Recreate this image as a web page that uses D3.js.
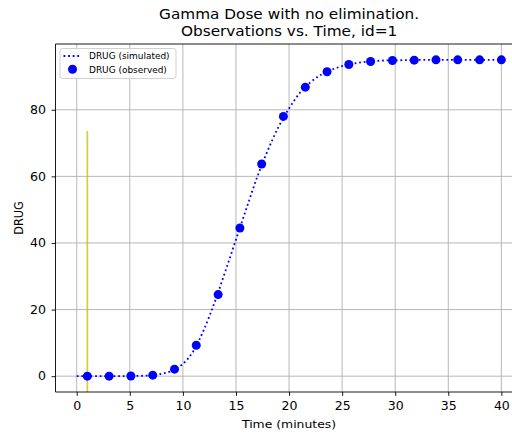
<!DOCTYPE html>
<html>
<head>
<meta charset="utf-8">
<script src="https://cdn.jsdelivr.net/npm/d3@7"></script>
<style>
  html, body { margin: 0; padding: 0; background: #fff; }
  svg { display: block; font-family: "DejaVu Sans", sans-serif; }
</style>
</head>
<body>
<svg id="chart" width="512" height="432"></svg>
<script>
// Simulated amount of DRUG over time (minutes)
const simTime = [0, 1, 2, 3, 4, 5, 6, 7, 8, 9, 10, 11, 12, 13, 14, 15, 16, 17, 18, 19, 20,
                 21, 22, 23, 24, 25, 26, 27, 28, 29, 30, 31, 32, 33, 34, 35, 36, 37, 38, 39, 40];
const simDrug = [0, 0, 0, 0, 0, 0.03, 0.1, 0.25, 0.75, 1.65, 3.7, 7.6, 14.1, 22.3, 31.5, 41.0,
                 50.5, 59.8, 67.8, 74.8, 80.4, 85.0, 88.2, 90.5, 92.0, 93.1, 93.8, 94.3, 94.6,
                 94.8, 94.85, 94.9, 94.95, 95, 95, 95, 95, 95, 95, 95, 95];

// Observed samples
const obsTime = [1, 3.05, 5.1, 7.16, 9.21, 11.26, 13.32, 15.37, 17.42, 19.47,
                 21.53, 23.58, 25.63, 27.68, 29.74, 31.79, 33.84, 35.89, 37.95, 40];
const obsDrug = [0, 0, 0.05, 0.3, 2.1, 9.3, 24.5, 44.5, 63.7, 78.0,
                 86.8, 91.4, 93.6, 94.5, 94.8, 94.9, 95.0, 95.0, 95.0, 95.0];

// Dosing time marker
const doseTime = 1;

const xTicks = [0, 5, 10, 15, 20, 25, 30, 35, 40];
const yTicks = [0, 20, 40, 60, 80];

const svg = d3.select("#chart");
const axLeft = 55.5, axRight = 522.6, axTop = 44, axBottom = 392;
const cx = (axLeft + axRight) / 2;
const sx = 1.1;          // horizontal text stretch
const tickFont = 11.4, labelFont = 11.3, titleFont = 13.9, legendFont = 8.15;

const x = d3.scaleLinear().domain([-2, 42]).range([axLeft, axRight]);
const y = d3.scaleLinear().domain([-4.75, 99.75]).range([axBottom, axTop]);

// Grid lines
const grid = svg.append("g");
grid.selectAll("line.gx").data(xTicks).join("line")
  .attr("x1", d => x(d)).attr("x2", d => x(d))
  .attr("y1", axTop).attr("y2", axBottom)
  .attr("stroke", "#b0b0b0").attr("stroke-width", 0.9);
grid.selectAll("line.gy").data(yTicks).join("line")
  .attr("x1", axLeft).attr("x2", axRight)
  .attr("y1", d => y(d)).attr("y2", d => y(d))
  .attr("stroke", "#b0b0b0").attr("stroke-width", 0.9);

// Dose marker spanning the lower three quarters of the axes
svg.append("line")
  .attr("x1", x(doseTime)).attr("x2", x(doseTime))
  .attr("y1", axBottom).attr("y2", axBottom - 0.75 * (axBottom - axTop))
  .attr("stroke", "#bfbf00").attr("stroke-opacity", 0.75).attr("stroke-width", 1.7);

// Simulated curve
const sim = simTime.map((t, i) => [t, simDrug[i]]);
svg.append("path")
  .datum(sim)
  .attr("d", d3.line().x(d => x(d[0])).y(d => y(d[1])).curve(d3.curveMonotoneX))
  .attr("fill", "none")
  .attr("stroke", "#0000ff")
  .attr("stroke-width", 1.8)
  .attr("stroke-dasharray", "1.8,2.8");

// Observed points
svg.append("g").selectAll("circle").data(obsTime.map((t, i) => [t, obsDrug[i]])).join("circle")
  .attr("cx", d => x(d[0])).attr("cy", d => y(d[1]))
  .attr("r", 4.5).attr("fill", "#0000ff");

// Axes
const tickLen = 3.9;
const xAxis = d3.axisBottom(x).tickValues(xTicks).tickSize(tickLen).tickPadding(6.0);
const yAxis = d3.axisLeft(y).tickValues(yTicks).tickSize(tickLen).tickPadding(5.6);

const gx = svg.append("g").attr("transform", `translate(0,${axBottom})`).call(xAxis);
const gy = svg.append("g").attr("transform", `translate(${axLeft},0)`).call(yAxis);
[gx, gy].forEach(g => {
  g.select(".domain").remove();
  g.selectAll(".tick line").attr("stroke", "#000").attr("stroke-width", 0.9);
  g.selectAll(".tick text").attr("fill", "#000")
    .attr("transform", `scale(${sx},1)`)
    .style("font-family", "DejaVu Sans").style("font-size", tickFont + "px");
});
gy.selectAll(".tick text").attr("x", -(tickLen + 5.6) / sx);

// Spines
svg.append("line").attr("x1", axLeft).attr("x2", axLeft).attr("y1", axTop).attr("y2", axBottom)
  .attr("stroke", "#000").attr("stroke-width", 0.9);
svg.append("line").attr("x1", axLeft).attr("x2", axRight).attr("y1", axBottom).attr("y2", axBottom)
  .attr("stroke", "#000").attr("stroke-width", 0.9);
svg.append("line").attr("x1", axLeft).attr("x2", axRight).attr("y1", axTop).attr("y2", axTop)
  .attr("stroke", "#000").attr("stroke-width", 0.9);

// Axis labels
svg.append("text")
  .attr("transform", `translate(${cx},427.5) scale(${sx},1)`)
  .attr("text-anchor", "middle").style("font-size", labelFont + "px")
  .text("Time (minutes)");
svg.append("text")
  .attr("transform", `translate(23.3,${(axTop + axBottom) / 2}) scale(${sx},1) rotate(-90)`)
  .attr("text-anchor", "middle").style("font-size", labelFont + "px")
  .text("DRUG");

// Title
const title = svg.append("text")
  .attr("transform", `translate(${cx},0) scale(${sx},1)`)
  .attr("text-anchor", "middle").style("font-size", titleFont + "px");
title.append("tspan").attr("x", 0).attr("y", 19.2).text("Gamma Dose with no elimination.");
title.append("tspan").attr("x", 0).attr("y", 35.8).text("Observations vs. Time, id=1");

// Legend
const lg = svg.append("g");
lg.append("rect")
  .attr("x", 60).attr("y", 48.5).attr("width", 116).attr("height", 30)
  .attr("rx", 2.5)
  .attr("fill", "#fff").attr("fill-opacity", 0.8)
  .attr("stroke", "#cccccc").attr("stroke-width", 0.9);
lg.append("line")
  .attr("x1", 63.5).attr("x2", 81.5).attr("y1", 56).attr("y2", 56)
  .attr("stroke", "#0000ff").attr("stroke-width", 1.8).attr("stroke-dasharray", "1.8,2.8");
lg.append("circle").attr("cx", 72.5).attr("cy", 69.3).attr("r", 4.5).attr("fill", "#0000ff");
lg.append("text").attr("transform", `translate(89,59.2) scale(${sx},1)`)
  .style("font-size", legendFont + "px").text("DRUG (simulated)");
lg.append("text").attr("transform", `translate(89,72.5) scale(${sx},1)`)
  .style("font-size", legendFont + "px").text("DRUG (observed)");
</script>
</body>
</html>
